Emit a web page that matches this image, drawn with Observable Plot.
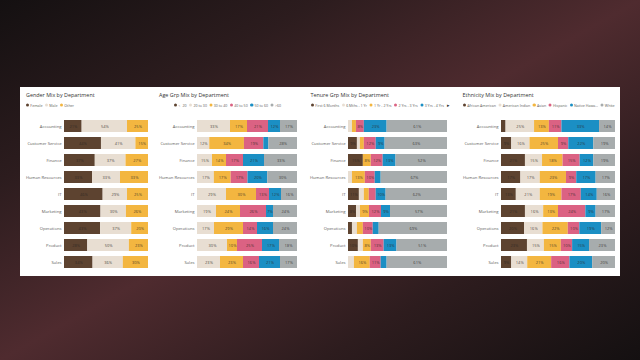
<!DOCTYPE html>
<html>
<head>
<meta charset="utf-8">
<script src="https://cdn.jsdelivr.net/npm/d3@7"></script>
<script src="https://cdn.jsdelivr.net/npm/@observablehq/plot@0.6"></script>
<style>
html,body{margin:0;padding:0;width:640px;height:360px;overflow:hidden;}
body{position:relative;font-family:"Open Sans",sans-serif;
 background:linear-gradient(to bottom right,#141011 0%,#2c1c1e 25%,#4f2b2f 50%,#2d1c1e 75%,#141011 100%);}
#card{position:absolute;left:20px;top:87px;width:600px;height:189px;background:#fff;}
.panel{position:absolute;top:110px;}
.title{position:absolute;top:91px;font-size:5.4px;color:#333;white-space:nowrap;line-height:8px;}
.legend{position:absolute;top:99px;height:12px;font-size:7.2px;color:#605e5c;white-space:nowrap;display:flex;align-items:center;gap:5px;line-height:12px;transform:scale(0.5);transform-origin:0 50%;}
.li{display:flex;align-items:center;gap:2.5px;}
.dot{display:inline-block;width:6.2px;height:6.2px;border-radius:50%;}
</style>
</head>
<body>
<div id="card"></div>
<div id="root"></div>
<script>
const departments = ["Accounting","Customer Service","Finance","Human Resources","IT","Marketing","Operations","Product","Sales"];

const brown = "#5d4330", beige = "#e8ded2", yellow = "#f3b640", pink = "#db6283", blue = "#1b8fc4", gray = "#a7acad";

const genderGroups = ["Female","Male","Other"];
const genderValues = [
  [21,54,25],[44,41,15],[37,37,27],[33,33,33],[46,29,25],[43,30,26],[43,37,20],[28,50,23],[34,36,30]
];

const ageGroups = ["<=20","20 to 30","30 to 40","40 to 50","50 to 60",">60"];
const ageValues = [
  [0,33,17,21,12,17],[0,12,34,19,5,28],[0,15,14,17,21,33],[0,17,17,17,20,30],[0,29,30,13,12,16],
  [0,19,24,26,7,24],[0,17,29,14,16,24],[0,30,10,25,17,18],[0,23,23,16,21,17]
];

const tenureGroups = ["First 6 Months","6 Mths - 1 Yr","1 Yr - 2 Yrs","2 Yrs - 3 Yrs","3 Yrs - 4 Yrs","4+ Yrs"];
const tenureValues = [
  [0,4,4,8,23,61],[9,3,4,12,9,63],[15,0,8,12,13,52],[0,4,13,10,6,67],[11,5,5,7,10,62],
  [8,4,9,12,9,57],[4,5,6,10,6,69],[10,5,8,13,13,51],[0,6,16,11,6,61]
];

const ethnicityGroups = ["African American","American Indian","Asian","Hispanic","Native Hawaiian","White"];
const ethnicityLegendLabels = ["African American","American Indian","Asian","Hispanic","Native Hawa...","White"];
const ethnicityValues = [
  [4,25,13,11,33,14],[9,16,25,9,22,19],[21,15,18,15,12,19],[17,17,23,9,17,17],[13,21,19,17,14,16],
  [21,16,13,24,9,17],[20,16,22,10,19,12],[23,15,15,10,15,23],[9,14,21,16,20,20]
];

const root = document.getElementById("root");

function addText(cls, left, html) {
  const d = document.createElement("div");
  d.className = cls; d.style.left = left + "px"; d.innerHTML = html;
  root.appendChild(d); return d;
}

function legend(left, groups, colors, labels, tail, center) {
  let html = groups.map((g,i)=>`<span class="li"><span class="dot" style="background:${colors[i]}"></span>${labels ? labels[i] : g}</span>`).join("");
  if (tail) html += `<span style="color:#333;font-size:9px">${tail}</span>`;
  const d = addText("legend", left, html);
  if (center) {
    const w = d.getBoundingClientRect().width;
    d.style.left = (center - w/2) + "px";
  }
}

function panel(left, width, marginLeft, marginRight, groups, colors, values, minLabel) {
  const rows = [];
  departments.forEach((dep,i)=>groups.forEach((g,j)=>rows.push({dept:dep, group:g, value:values[i][j]})));
  const data = rows.filter(r=>r.value>0);
  const plot = Plot.plot({
    width, height:166, marginLeft, marginRight, marginTop:4, marginBottom:2,
    x:{axis:null, domain:[0,1]},
    y:{domain:departments, padding:0.28, label:null, tickSize:0, tickPadding:3},
    color:{domain:groups, range:colors},
    style:{fontFamily:"Open Sans, sans-serif", fontSize:"4.2px", color:"#605e5c", background:"transparent", overflow:"visible"},
    marks:[
      Plot.barX(data, Plot.stackX({x:"value", y:"dept", fill:"group", offset:"normalize"})),
      Plot.text(data, Plot.stackX({x:"value", y:"dept", z:"group", offset:"normalize",
        text:d=>d.value>=minLabel ? d.value+"%" : "", fill:"#2b2622", fontSize:4, fillOpacity:0.85}))
    ]
  });
  const wrap = document.createElement("div");
  wrap.className = "panel"; wrap.style.left = left + "px";
  wrap.appendChild(plot); root.appendChild(wrap);
}

const six = [brown, beige, yellow, pink, blue, gray];

addText("title", 26, "Gender Mix by Department");
legend(26, genderGroups, [brown, beige, yellow]);
panel(20, 135, 44, 7, genderGroups, [brown, beige, yellow], genderValues, 1);

addText("title", 159, "Age Grp Mix by Department");
legend(175, ageGroups, six, null, null, 228);
panel(155, 145, 42, 3, ageGroups, six, ageValues, 6);

addText("title", 310.5, "Tenure Grp Mix by Department");
legend(311, tenureGroups.slice(0,5), six.slice(0,5), null, "▸");
panel(300, 150, 48, 3, tenureGroups, six, tenureValues, 8);

addText("title", 462.5, "Ethnicity Mix by Department");
legend(463, ethnicityGroups, six, ethnicityLegendLabels);
panel(450, 170, 51, 5, ethnicityGroups, six, ethnicityValues, 8);
</script>
</body>
</html>
